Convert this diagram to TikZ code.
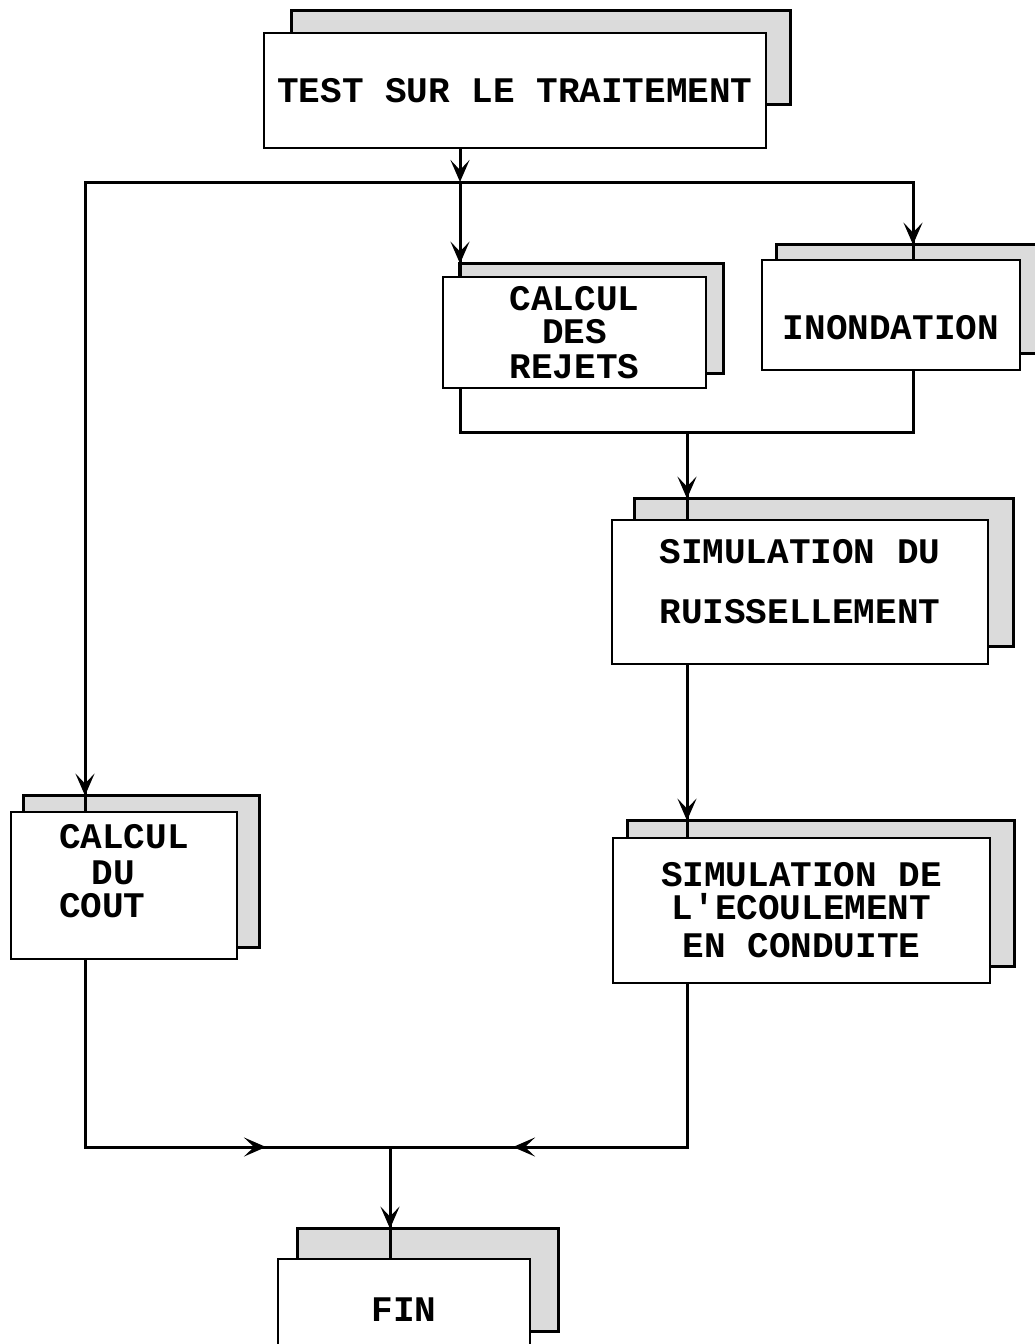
\documentclass[tikz,border=0pt]{standalone}
\usepackage{fontspec}
\setmonofont{Liberation Mono}
\usetikzlibrary{positioning,arrows.meta,calc,backgrounds,decorations.markings}

\tikzset{flowtip/.tip={Stealth[length=22pt,width=19pt,inset=10pt]}}

\begin{document}
\begin{tikzpicture}[x=1pt, y=-1pt,
    stepbox/.style={draw, line width=2.8pt, fill=white, align=center, inner sep=0pt, font=\ttfamily\bfseries\fontsize{36}{33}\selectfont},
    shadowbox/.style={draw, line width=2.8pt, fill=gray!28},
    flow/.style={draw, line width=3pt},
    tipat/.style={postaction={decorate, decoration={markings, mark=at position #1 with {\arrow{flowtip}}}}}
]
    \useasboundingbox (0,0) rectangle (1035,1344);

    % boites
    \node[stepbox, minimum width=502pt, minimum height=115pt] (test) at (515,90.5) {TEST SUR LE TRAITEMENT};
    \node[stepbox, minimum width=263pt, minimum height=111pt] (rejets) at (574.5,332.5) {CALCUL\\DES\\[2pt]REJETS};
    \node[stepbox, minimum width=258pt, minimum height=110pt] (inond) at (891,315) {\rule{0pt}{50pt}INONDATION};
    \node[stepbox, minimum width=376pt, minimum height=144pt] (ruiss) at (800,592) {SIMULATION DU\\[27pt]RUISSELLEMENT\rule[-22pt]{0pt}{22pt}};
    \node[stepbox, minimum width=377pt, minimum height=145pt] (ecoul) at (801.5,910.5) {SIMULATION DE\\L'ECOULEMENT\\[5pt]EN CONDUITE};
    \node[stepbox, align=left, minimum width=226pt, minimum height=147pt] (cout) at (124,885.5) {CALCUL\\[3pt]\hspace*{0.9em}DU\\COUT\rule[-30pt]{0pt}{30pt}};
    \node[stepbox, minimum width=252pt, minimum height=101pt] (fin) at (404,1309.5) {FIN};

    % ombres
    \begin{scope}[on background layer]
        \draw[shadowbox] ($(test.north west)+(29,-21)$) rectangle ($(test.south east)+(23,-45)$);
        \draw[shadowbox] ($(rejets.north west)+(18,-12)$) rectangle ($(rejets.south east)+(16,-16)$);
        \draw[shadowbox] ($(inond.north west)+(16,-14)$) rectangle ($(inond.south east)+(20,-18)$);
        \draw[shadowbox] ($(ruiss.north west)+(24,-20)$) rectangle ($(ruiss.south east)+(24,-19)$);
        \draw[shadowbox] ($(ecoul.north west)+(16,-16)$) rectangle ($(ecoul.south east)+(23,-18)$);
        \draw[shadowbox] ($(cout.north west)+(14,-15)$) rectangle ($(cout.south east)+(21,-13)$);
        \draw[shadowbox] ($(fin.north west)+(21,-29)$) rectangle ($(fin.south east)+(27,-30)$);
    \end{scope}

    % points de branchement
    \coordinate (j1) at (460,182);
    \coordinate (jl) at (85,182);
    \coordinate (jr) at (913,182);
    \coordinate (jm) at (687,432);
    \coordinate (jf) at (390,1147);

    % liaisons
    \draw[flow, -flowtip] (test.south -| j1) -- (j1);
    \draw[flow, tipat=-12pt] (j1) -- (rejets.north -| j1);
    \draw[flow, tipat=-15pt] (j1) -- (jl) -- (cout.north -| jl);
    \draw[flow, tipat=-14pt] (j1) -- (jr) -- (inond.north -| jr);
    \draw[flow] (rejets.south -| j1) |- (jm) -| (inond.south -| jr);
    \draw[flow, tipat=-20pt] (jm) -- (ruiss.north -| jm);
    \draw[flow, tipat=-16pt] (ruiss.south -| jm) -- (ecoul.north -| jm);
    \draw[flow, tipat=-124pt] (cout.south -| jl) |- (jf);
    \draw[flow, tipat=-123pt] (ecoul.south -| jm) |- (jf);
    \draw[flow, tipat=-29pt] (jf) -- (fin.north -| jf);
\end{tikzpicture}
\end{document}
